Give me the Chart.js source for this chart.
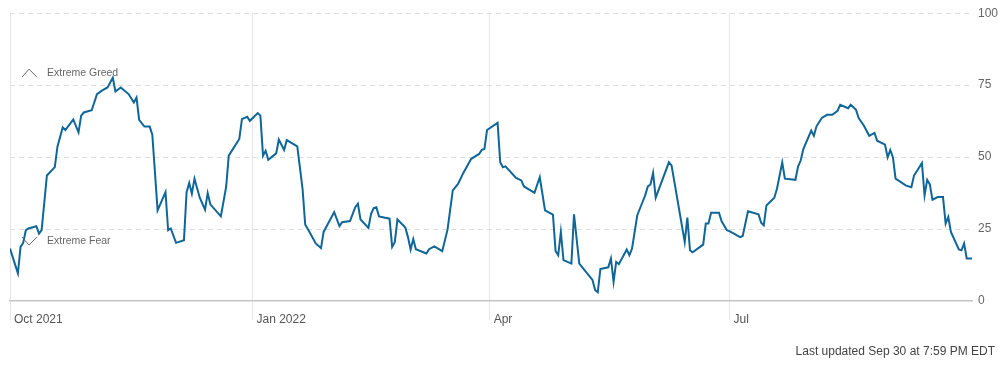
<!DOCTYPE html>
<html>
<head>
<meta charset="utf-8">
<script src="https://cdn.jsdelivr.net/npm/chart.js@4.4.1/dist/chart.umd.min.js"></script>
<style>
  html, body { margin: 0; padding: 0; background: #fff; }
  #wrap { position: relative; width: 998px; height: 365px; overflow: hidden; }
  #c { position: absolute; left: 0; top: 0; }
  #updated { position: absolute; right: 3px; top: 344px; font: 12px "Liberation Sans", Arial, sans-serif; color: #444; white-space: nowrap; }
</style>
</head>
<body>
<div id="wrap">
  <canvas id="c" width="998" height="365"></canvas>
  <div id="updated">Last updated Sep 30 at 7:59 PM EDT</div>
</div>
<script>
// Days since Oct 1, 2021
const days = [0,3,4,5,6,7,10,11,12,14,17,18,20,21,24,26,27,28,31,33,35,37,39,40,42,45,47,48,49,51,53,54,56,59,60,61,63,66,67,68,69,70,72,74,75,76,80,82,83,87,88,90,91,94,95,96,97,98,101,102,104,105,109,111,112,114,116,118,119,123,125,126,129,131,132,133,136,137,138,139,140,144,145,146,147,150,151,152,153,154,158,159,161,164,166,168,170,172,175,178,179,180,181,185,186,187,188,192,194,195,199,201,203,206,207,208,209,210,213,214,216,221,222,223,224,227,228,229,230,231,234,235,236,238,240,241,242,243,244,245,250,251,256,257,258,259,263,264,265,266,269,270,272,273,277,278,280,284,285,286,287,290,291,293,294,298,299,300,301,304,305,306,308,310,312,314,315,318,319,321,322,324,326,328,329,332,333,334,335,336,340,342,343,346,347,348,349,350,352,354,355,356,357,360,361,362,363,365];
const values = [18.2,9.6,18.8,20.2,24.6,25.2,26,23.4,24.6,43.6,46.5,53.6,60.3,59.4,63.1,58.6,64.4,65.5,66.3,71.9,73.2,74.2,77.6,72.8,74.2,71.9,69,70.7,62.9,60.6,60.6,57.8,31.5,37.8,24.6,25.2,20.2,21.1,37.8,41,37.3,42.5,35.9,31.7,37.5,33.6,29.4,39.6,50.5,56.3,63.2,64,62.6,65.3,64.4,50.5,52.2,49.1,51.3,56.1,52.5,55.9,53.7,39,26.6,23.4,20,18.4,24,30.9,26,27.4,27.8,32.6,33.8,28.3,25.4,30.3,32.3,32.6,29.4,28.6,18.8,20.5,28.3,25.5,22.2,17.9,21.5,18,16.5,18,19,17.3,24.8,38.4,40.7,44.5,49.4,51.1,52.5,52.8,59.4,61.9,48.2,46.5,46.8,42.8,41.9,39.8,37.6,43,31.5,30,17.4,15.9,24,14.2,13,30.1,13,7.3,3.8,3,11.1,11.7,14.8,6.7,13.6,12.8,17.9,15.9,18.2,29.8,34.4,36.7,39.8,40.5,44.5,35.9,48.2,47.1,20.5,29,17.6,16.9,19.6,26.9,26.9,30.7,30.7,27.7,24.6,24.3,22.2,22.6,31.2,30.1,27.2,26.3,33.2,35.9,39,48.2,42.5,42.1,46.7,48.8,52.8,59.2,57.4,60.7,63.6,64.7,64.7,66.1,68.2,67,68.2,66.4,63.6,60.9,57.4,58.4,55.7,54.3,49.9,52.5,49.9,42.5,40.1,39.5,43.6,47.9,36.7,42.1,40.5,35.2,36.1,36.1,26.9,29.2,24,17.9,17.6,20,14.8,14.8];
const tickDays = [0, 92, 182, 273];
const tickLabels = ['Oct 2021', 'Jan 2022', 'Apr', 'Jul'];
const yTicks = [0, 25, 50, 75, 100];
const zoneLabels = ['Extreme Greed', 'Extreme Fear'];
const zoneLevels = [75, 25];

const FONT = '"Liberation Sans", Arial, sans-serif';

const zonePlugin = {
  id: 'zones',
  afterDatasetsDraw(chart) {
    const { ctx, scales } = chart;
    const xs = scales.x, ys = scales.y;
    const left = xs.getPixelForValue(0);
    ctx.save();
    ctx.font = '10.5px ' + FONT;
    ctx.fillStyle = '#666';
    ctx.strokeStyle = '#666';
    ctx.lineWidth = 1;
    ctx.textBaseline = 'middle';
    ctx.textAlign = 'left';
    let yg = ys.getPixelForValue(zoneLevels[0]) - 12;
    ctx.beginPath();
    ctx.moveTo(left + 12, yg + 4);
    ctx.lineTo(left + 19, yg - 4);
    ctx.lineTo(left + 27, yg + 4);
    ctx.stroke();
    ctx.fillText(zoneLabels[0], left + 37, yg);
    let yf = ys.getPixelForValue(zoneLevels[1]) + 12;
    ctx.beginPath();
    ctx.moveTo(left + 12, yf - 4);
    ctx.lineTo(left + 19, yf + 4);
    ctx.lineTo(left + 27, yf - 4);
    ctx.stroke();
    ctx.fillText(zoneLabels[1], left + 37, yf);
    ctx.restore();
  }
};

new Chart(document.getElementById('c'), {
  type: 'line',
  data: {
    datasets: [{
      data: days.map((d, i) => ({ x: d, y: values[i] })),
      borderColor: '#0f6698',
      borderWidth: 2,
      pointRadius: 0,
      tension: 0,
      fill: false
    }]
  },
  options: {
    responsive: false,
    animation: false,
    events: [],
    layout: { padding: { left: 10, right: 0, top: 12, bottom: 0 } },
    plugins: { legend: { display: false }, tooltip: { enabled: false } },
    scales: {
      x: {
        type: 'linear',
        min: 0,
        max: 365,
        afterBuildTicks(scale) { scale.ticks = tickDays.map(v => ({ value: v })); },
        afterFit(scale) { scale.height = 64; },
        ticks: {
          autoSkip: false,
          maxRotation: 0,
          align: 'start',
          labelOffset: 4,
          padding: -8,
          color: '#555',
          font: { family: FONT, size: 12 },
          callback(v) { const i = tickDays.indexOf(v); return i >= 0 ? tickLabels[i] : ''; }
        },
        grid: { color: '#e6e6e6', lineWidth: 1, drawTicks: true, tickLength: 19, tickColor: '#e6e6e6' },
        border: { display: true, color: '#c4c4c4', width: 1.5 }
      },
      y: {
        position: 'right',
        min: 0,
        max: 100,
        afterBuildTicks(scale) { scale.ticks = yTicks.map(v => ({ value: v })); },
        afterFit(scale) { scale.width = 26; },
        ticks: {
          padding: 6,
          color: '#666',
          font: { family: FONT, size: 12 }
        },
        grid: {
          color: (c) => c.tick && c.tick.value === 0 ? 'rgba(0,0,0,0)' : '#dedede',
          drawTicks: false,
          tickLength: 0,
          lineWidth: 1
        },
        border: { display: false, dash: [5, 4] }
      }
    }
  },
  plugins: [zonePlugin]
});
</script>
</body>
</html>
